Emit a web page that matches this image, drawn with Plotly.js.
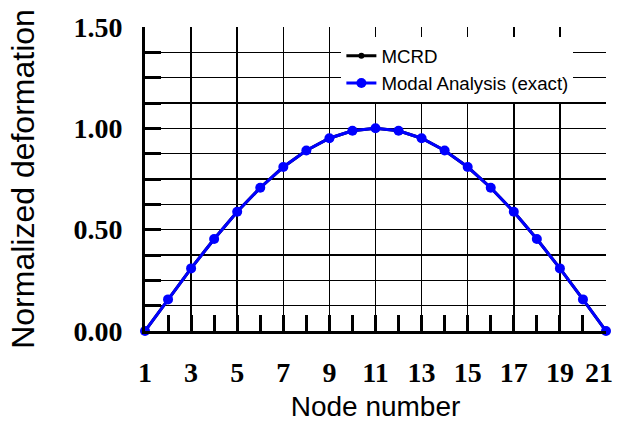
<!DOCTYPE html>
<html>
<head>
<meta charset="utf-8">
<script src="https://cdn.plot.ly/plotly-3.0.1.min.js"></script>
<style>html,body{margin:0;padding:0;background:#fff;}#chart{width:617px;height:423px;}</style>
</head>
<body>
<div id="chart"></div>
<script>
// Data
const nodes = [1,2,3,4,5,6,7,8,9,10,11,12,13,14,15,16,17,18,19,20,21];
const mcrd = [0,0.156,0.309,0.454,0.588,0.707,0.809,0.891,0.951,0.988,1.0,0.988,0.951,0.891,0.809,0.707,0.588,0.454,0.309,0.156,0];
const modalExact = [0,0.156,0.309,0.454,0.588,0.707,0.809,0.891,0.951,0.988,1.0,0.988,0.951,0.891,0.809,0.707,0.588,0.454,0.309,0.156,0];
const xTickVals = [1,3,5,7,9,11,13,15,17,19,21];
const xTickText = ['1','3','5','7','9','11','13','15','17','19','21'];
const xMinorVals = [2,4,6,8,10,12,14,16,18,20];
const yTickVals = [0,0.125,0.25,0.375,0.5,0.625,0.75,0.875,1.0,1.125,1.25,1.375,1.5];
const yTickText = ['0.00','','','','0.50','','','','1.00','','','','1.50'];

const lastIdx = xTickVals.length - 1;
// last label sits against the right edge: drawn right-aligned so it stays inside the page
const xTickTextAxis = xTickText.map((t, i) => i === lastIdx ? '' : t);

const traces = [
  {x: nodes, y: mcrd, name: 'MCRD', type: 'scatter', mode: 'lines+markers',
   line: {color: '#000000', width: 3}, marker: {color: '#000000', size: 6}, cliponaxis: false},
  {x: nodes, y: modalExact, name: 'Modal Analysis (exact)', type: 'scatter', mode: 'lines+markers',
   line: {color: '#0000ff', width: 3}, marker: {color: '#0000ff', size: 10}, cliponaxis: false}
];

const tickFont = {family: '"Liberation Serif", "Times New Roman", serif', size: 28, color: '#000', weight: 'bold'};

const layout = {
  width: 617, height: 423,
  margin: {l: 145, r: 11, t: 27, b: 92},
  paper_bgcolor: '#fff', plot_bgcolor: '#fff',
  showlegend: true,
  legend: {x: 0.426, y: 0.967, xanchor: 'left', yanchor: 'top', bgcolor: '#fff', borderwidth: 0,
           font: {family: '"Liberation Sans", Arial, sans-serif', size: 18.7, color: '#000'}},
  xaxis: {
    range: [1, 21], tickmode: 'array', tickvals: xTickVals, ticktext: xTickTextAxis,
    ticks: 'inside', ticklen: 16, tickwidth: 3, tickcolor: '#000',
    showgrid: true, gridcolor: '#000', gridwidth: 1.5, zeroline: false,
    showline: true, linecolor: '#000', linewidth: 3,
    minor: {tickvals: xMinorVals, ticks: 'inside', ticklen: 16, tickwidth: 3, tickcolor: '#000', showgrid: false},
    tickfont: tickFont, ticklabelstandoff: 14, ticklabeloverflow: 'allow',
    title: {text: 'Node number', font: {family: '"Liberation Sans", Arial, sans-serif', size: 28, color: '#000'}, standoff: 10},
    automargin: false
  },
  yaxis: {
    range: [0, 1.5], tickmode: 'array', tickvals: yTickVals, ticktext: yTickText,
    ticks: 'inside', ticklen: 16, tickwidth: 3, tickcolor: '#000',
    showgrid: true, gridcolor: '#000', gridwidth: 1.5, zeroline: false,
    showline: true, linecolor: '#000', linewidth: 3,
    tickfont: tickFont, ticklabelstandoff: 14, ticklabeloverflow: 'allow',
    title: {text: 'Normalized deformation', font: {family: '"Liberation Sans", Arial, sans-serif', size: 32, color: '#000'}, standoff: 30},
    automargin: false
  },
  annotations: [{
    x: xTickVals[lastIdx], xref: 'x', y: 0, yref: 'paper',
    text: xTickText[lastIdx], showarrow: false,
    xanchor: 'right', yanchor: 'middle', xshift: 9, yshift: -41,
    font: tickFont
  }]
};

Plotly.newPlot('chart', traces, layout, {displayModeBar: false, staticPlot: true});
</script>
</body>
</html>
